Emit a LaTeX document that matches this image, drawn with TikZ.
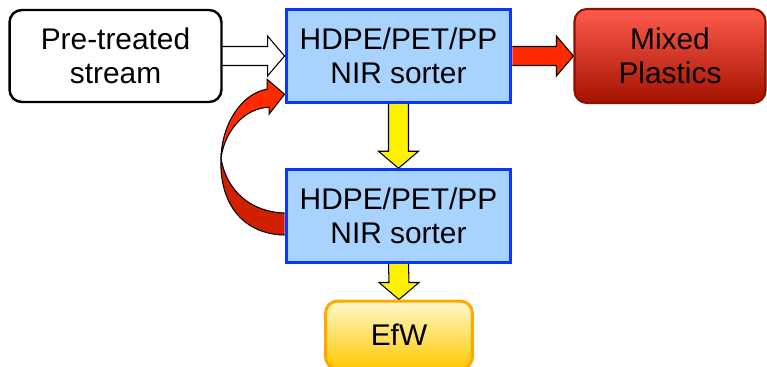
\documentclass[tikz,border=0pt]{standalone}
\usepackage{fontspec}
\setmainfont{Liberation Sans}
\usetikzlibrary{calc, backgrounds}
\definecolor{sortfill}{HTML}{A8D3FF}
\definecolor{sortline}{HTML}{0A36FF}
\definecolor{arrred}{HTML}{FF2A00}
\definecolor{arrdark}{HTML}{D02000}
\definecolor{mixtop}{HTML}{FF5B4C}
\definecolor{mixbot}{HTML}{A31200}
\definecolor{mixline}{HTML}{8C1000}
\definecolor{efwtop}{HTML}{FFF9CC}
\definecolor{efwbot}{HTML}{FFC800}
\definecolor{efwline}{HTML}{FFA800}

% block arrows: #1 style, #2 from node, #3 to node
\newcommand{\blockright}[3]{%
  \filldraw[#1] ($(#2.east)+(0,-9.5)$) -- ($(#3.west)+(-17,-9.5)$)
    -- ($(#3.west)+(-17,-20)$) -- (#3.west) -- ($(#3.west)+(-17,20)$)
    -- ($(#3.west)+(-17,9.5)$) -- ($(#2.east)+(0,9.5)$);}
\newcommand{\blockdown}[3]{%
  \filldraw[#1] ($(#2.south)+(-10,0)$) -- ($(#3.north)+(-10,-17)$)
    -- ($(#3.north)+(-20,-17)$) -- (#3.north) -- ($(#3.north)+(20,-17)$)
    -- ($(#3.north)+(10,-17)$) -- ($(#2.south)+(10,0)$);}

\begin{document}
\begin{tikzpicture}[
    x=0.02cm, y=-0.02cm,
    every node/.style={font=\fontsize{17}{19.3}\selectfont, align=center, inner sep=0pt},
    feed/.style={draw=black, line width=1.4pt, rounded corners=7pt, fill=white,
                 minimum width=4.24cm, minimum height=1.84cm},
    sorter/.style={draw=sortline, line width=1.7pt, fill=sortfill,
                   minimum width=4.5cm, minimum height=1.85cm},
    reject/.style={draw=mixline, line width=1.2pt, rounded corners=7pt,
                   top color=mixtop, bottom color=mixbot,
                   minimum width=3.82cm, minimum height=1.88cm},
    efw/.style={draw=efwline, line width=1.7pt, rounded corners=7pt,
                top color=efwtop, bottom color=efwbot,
                minimum width=2.94cm, minimum height=1.36cm},
    whitearr/.style={fill=white, draw=black, line width=0.6pt},
    redarr/.style={fill=arrred, draw=black, line width=0.6pt},
    yelarr/.style={fill=yellow, draw=black, line width=0.6pt},
    loopdark/.style={fill=arrdark, draw=black, line width=0.6pt},
]
    \useasboundingbox (0,0) rectangle (767,366);
    \clip (0,0) rectangle (767,366);

    % Boxes
    \node[feed]   (pre)   at (115.5, 56) {Pre-treated\\stream};
    \node[sorter] (nir1)  at (398.5, 56) {HDPE/PET/PP\\NIR sorter};
    \node[reject] (mixed) at (670, 56)   {Mixed\\Plastics};
    \node[sorter] (nir2)  at (398.5, 216) {HDPE/PET/PP\\NIR sorter};
    \node[efw]    (efw)   at (399, 335)  {EfW};

    % Block arrows behind the boxes
    \begin{scope}[on background layer]
        \blockright{whitearr}{pre}{nir1}
        \blockright{redarr}{nir1}{mixed}
        \blockdown{yelarr}{nir1}{nir2}
        \blockdown{yelarr}{nir2}{efw}

        % Recycle loop: second sorter back to the first
        \coordinate (pinch) at (221, 158);
        \filldraw[loopdark] ($(nir2.west)+(0,19)$)
            .. controls (240, 234) and (219, 200) .. (pinch)
            .. controls (226, 190) and (250, 212) .. ($(nir2.west)+(0,-3)$);
        \filldraw[redarr] (pinch)
            .. controls (222, 122) and (243, 93) .. ($(nir1.south west)+(-17.5,-14.5)$)
            -- ($(nir1.south west)+(-17.5,-24.5)$) -- ($(nir1.south west)+(0,-9.5)$)
            -- ($(nir1.south west)+(-15.5,10.5)$) -- ($(nir1.south west)+(-15.5,3.5)$)
            .. controls (245, 108) and (225, 130) .. (pinch);
    \end{scope}
\end{tikzpicture}
\end{document}
